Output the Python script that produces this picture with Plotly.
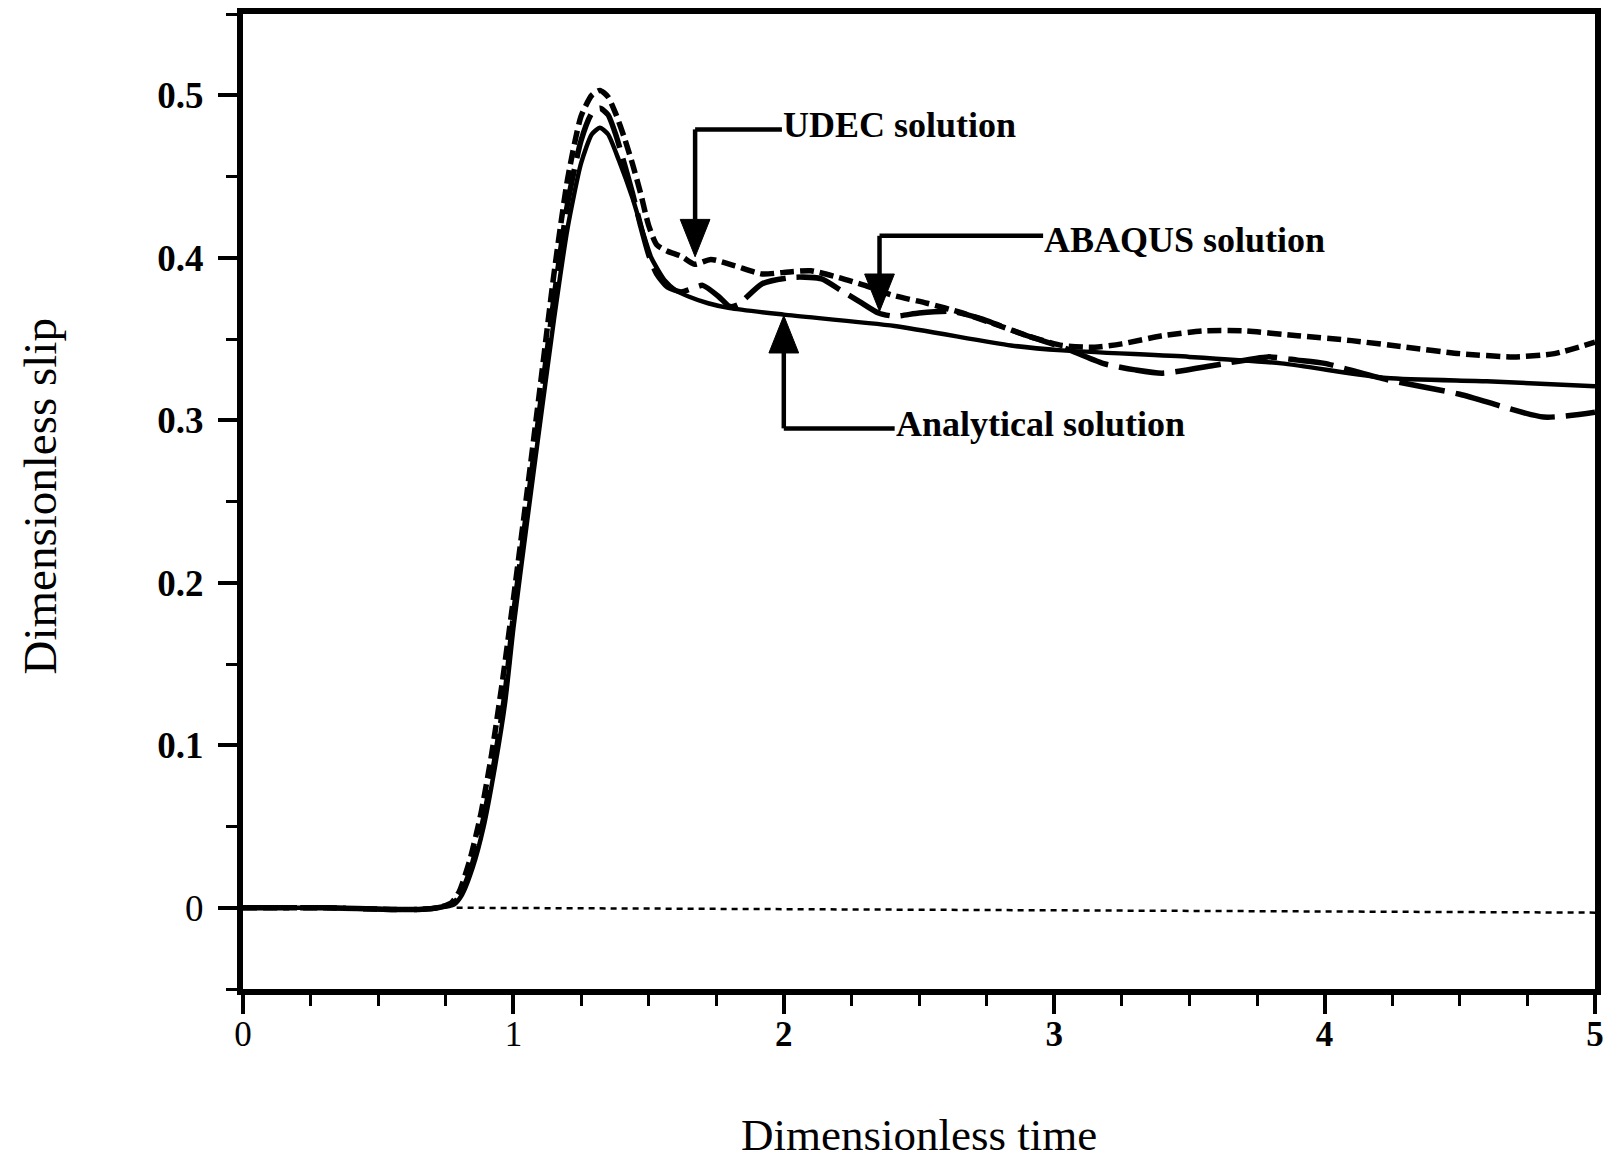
import plotly.graph_objects as go

# Dimensionless slip versus dimensionless time for the three solutions
t_analytical = [0.0, 0.3, 0.55, 0.65, 0.72, 0.78, 0.81, 0.85, 0.89, 0.93, 0.97, 1.0, 1.05, 1.1,
                1.15, 1.2, 1.25, 1.29, 1.32, 1.35, 1.39, 1.44, 1.48, 1.51, 1.56, 1.6, 1.65, 1.72,
                1.8, 2.0, 2.41, 2.84, 3.03, 3.5, 3.84, 4.23, 4.6, 5.0]
s_analytical = [0.0, 0.0, -0.001, -0.001, 0.0, 0.002, 0.008, 0.025, 0.05, 0.085, 0.127, 0.172,
                0.237, 0.3, 0.362, 0.418, 0.458, 0.476, 0.48, 0.476, 0.46, 0.437, 0.415, 0.4,
                0.386, 0.38, 0.376, 0.372, 0.369, 0.365, 0.358, 0.346, 0.343, 0.339, 0.335,
                0.326, 0.324, 0.321]

t_udec = [0.0, 0.3, 0.55, 0.65, 0.72, 0.77, 0.8, 0.84, 0.88, 0.92, 0.96, 1.0, 1.05, 1.1, 1.15,
          1.2, 1.25, 1.29, 1.32, 1.35, 1.38, 1.41, 1.44, 1.47, 1.5, 1.53, 1.57, 1.62, 1.67, 1.73,
          1.82, 1.92, 2.0, 2.1, 2.2, 2.3, 2.4, 2.53, 2.66, 2.8, 2.9, 3.03, 3.15, 3.25, 3.4, 3.55,
          3.7, 3.9, 4.1, 4.3, 4.5, 4.7, 4.85, 5.0]
s_udec = [0.0, 0.0, -0.001, -0.001, 0.0, 0.003, 0.01, 0.03, 0.058, 0.095, 0.14, 0.19, 0.255,
          0.322, 0.39, 0.448, 0.487, 0.5, 0.503, 0.499, 0.488, 0.474, 0.458, 0.44, 0.42, 0.408,
          0.404, 0.401, 0.396, 0.399, 0.395, 0.39, 0.391, 0.392, 0.388, 0.383, 0.377, 0.372,
          0.366, 0.358, 0.352, 0.346, 0.345, 0.347, 0.352, 0.355, 0.355, 0.352, 0.349, 0.345,
          0.341, 0.339, 0.341, 0.348]

t_abaqus = [0.0, 0.3, 0.55, 0.65, 0.72, 0.78, 0.81, 0.85, 0.89, 0.93, 0.97, 1.0, 1.05, 1.1, 1.15,
            1.2, 1.25, 1.29, 1.32, 1.35, 1.38, 1.41, 1.44, 1.47, 1.5, 1.53, 1.57, 1.62, 1.66, 1.7,
            1.76, 1.8, 1.83, 1.92, 2.04, 2.14, 2.21, 2.28, 2.35, 2.41, 2.5, 2.62, 2.72, 2.9, 3.03,
            3.18, 3.3, 3.4, 3.6, 3.79, 3.9, 4.0, 4.23, 4.5, 4.81, 5.0]
s_abaqus = [0.0, 0.0, -0.001, -0.001, 0.0, 0.003, 0.01, 0.028, 0.055, 0.09, 0.133, 0.18, 0.245,
            0.31, 0.375, 0.433, 0.472, 0.489, 0.492, 0.488, 0.475, 0.458, 0.44, 0.42, 0.402, 0.39,
            0.382, 0.379, 0.381, 0.383, 0.376, 0.37, 0.371, 0.384, 0.388, 0.387, 0.38, 0.373,
            0.366, 0.364, 0.366, 0.367, 0.363, 0.352, 0.345, 0.335, 0.331, 0.329, 0.334, 0.339,
            0.337, 0.335, 0.325, 0.316, 0.302, 0.305]

# Zero-slip reference after slip onset
t_baseline = [0.79, 5.0]
s_baseline = [0.0, -0.003]

x_tick_vals = [0, 1, 2, 3, 4, 5]
x_tick_text = ["0", "1", "<b>2</b>", "<b>3</b>", "<b>4</b>", "<b>5</b>"]
y_tick_vals = [0, 0.1, 0.2, 0.3, 0.4, 0.5]
y_tick_text = ["0", "<b>0.1</b>", "<b>0.2</b>", "<b>0.3</b>", "<b>0.4</b>", "<b>0.5</b>"]

# Callout labels with elbow leader lines ending in an arrowhead on the curve
callout_labels = ["UDEC solution", "ABAQUS solution", "Analytical solution"]
callout_tip_t = [1.672, 2.354, 2.0]
callout_tip_s = [0.4006, 0.367, 0.3644]
callout_elbow_s = [0.479, 0.4135, 0.295]
callout_text_t = [1.993, 2.959, 2.41]
callout_text_s = [0.482, 0.411, 0.298]

FONT = "Liberation Serif"
INK = "black"

fig = go.Figure()

fig.add_trace(go.Scatter(x=t_baseline, y=s_baseline, mode="lines",
                         line=dict(color=INK, width=2.5, dash="6px,5px")))
fig.add_trace(go.Scatter(x=t_analytical, y=s_analytical, mode="lines",
                         line=dict(color=INK, width=4.5, shape="spline", smoothing=0.6)))
fig.add_trace(go.Scatter(x=t_abaqus, y=s_abaqus, mode="lines",
                         line=dict(color=INK, width=5.5, dash="46px,11px", shape="spline",
                                   smoothing=0.6)))
fig.add_trace(go.Scatter(x=t_udec, y=s_udec, mode="lines",
                         line=dict(color=INK, width=5.5, dash="14px,6px", shape="spline",
                                   smoothing=0.6)))

head_h = 0.023
head_w = 0.055
shapes = []
annotations = []
for label, tt, ts, es, xt, xs in zip(callout_labels, callout_tip_t, callout_tip_s,
                                     callout_elbow_s, callout_text_t, callout_text_s):
    direction = 1 if es > ts else -1
    base = ts + direction * head_h
    shapes.append(dict(type="line", xref="x", yref="y", x0=tt, y0=es, x1=xt, y1=es,
                       line=dict(color=INK, width=4.5)))
    shapes.append(dict(type="line", xref="x", yref="y", x0=tt, y0=es, x1=tt, y1=base,
                       line=dict(color=INK, width=4.5)))
    shapes.append(dict(type="path", xref="x", yref="y",
                       path=f"M {tt - head_w},{base} L {tt + head_w},{base} L {tt},{ts} Z",
                       fillcolor=INK, line=dict(color=INK, width=1)))
    annotations.append(dict(x=xt, y=xs, xref="x", yref="y", text=f"<b>{label}</b>",
                            showarrow=False, xanchor="left", yanchor="middle", borderpad=0,
                            font=dict(family=FONT, size=36, color=INK)))

annotations.append(dict(x=0.5, y=0, xref="paper", yref="paper", text="Dimensionless time",
                        showarrow=False, xanchor="center", yanchor="middle", yshift=-146,
                        font=dict(family=FONT, size=45, color=INK)))
annotations.append(dict(x=0, y=0.5, xref="paper", yref="paper", text="Dimensionless slip",
                        showarrow=False, xanchor="center", yanchor="middle", xshift=-204,
                        yshift=5, textangle=-90, font=dict(family=FONT, size=47, color=INK)))

axis_common = dict(showgrid=False, zeroline=False, showline=True, mirror=True,
                   linecolor=INK, linewidth=6, ticks="outside", tickcolor=INK,
                   tickwidth=4, ticklen=19, tickmode="array")

fig.update_layout(
    width=1616, height=1164,
    margin=dict(l=243, r=21, t=8, b=175),
    paper_bgcolor="white", plot_bgcolor="white",
    showlegend=False,
    shapes=shapes, annotations=annotations,
    xaxis=dict(range=[0, 5], tickvals=x_tick_vals, ticktext=x_tick_text,
               tickfont=dict(family=FONT, size=35, color=INK), ticklabelstandoff=-10,
               minor=dict(tickmode="linear", tick0=0, dtick=0.25, ticks="outside",
                          ticklen=11, tickwidth=3, tickcolor=INK),
               **axis_common),
    yaxis=dict(range=[-0.05, 0.55], tickvals=y_tick_vals, ticktext=y_tick_text,
               tickfont=dict(family=FONT, size=37, color=INK), ticklabelstandoff=7,
               minor=dict(tickmode="linear", tick0=0, dtick=0.05, ticks="outside",
                          ticklen=11, tickwidth=3, tickcolor=INK),
               **axis_common),
)

fig.write_html("out.html")
